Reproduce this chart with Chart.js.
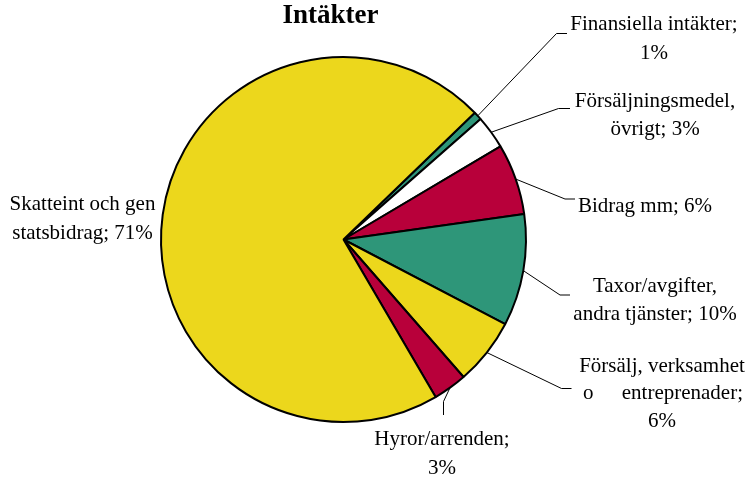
<!DOCTYPE html>
<html lang="sv">
<head>
<meta charset="utf-8">
<title>Intäkter</title>
<script src="https://cdn.jsdelivr.net/npm/chart.js@4.4.1/dist/chart.umd.min.js"></script>
<style>
  html, body { margin: 0; padding: 0; background: #ffffff; }
  canvas { display: block; }
</style>
</head>
<body>
<canvas id="pieChart" width="750" height="479"></canvas>
<script>
// Data (andelar i procent, medurs från "Finansiella intäkter")
const categories = [
    'Finansiella intäkter',
    'Försäljningsmedel, övrigt',
    'Bidrag mm',
    'Taxor/avgifter, andra tjänster',
    'Försälj, verksamhet o entreprenader',
    'Hyror/arrenden',
    'Skatteint och gen statsbidrag'
];
const shares = [0.75, 2.95, 6.3, 9.9, 5.9, 3.0, 71.2];
const sliceColors = ['#2e9679', '#ffffff', '#b8003a', '#2e9679', '#ecd71c', '#b8003a', '#ecd71c'];
const chartTitle = 'Intäkter';

// Radbrytning av etiketterna, {p} = avrundad procentsats
const labelText = [
    ['Finansiella intäkter;', '{p}%'],
    ['Försäljningsmedel,', 'övrigt; {p}%'],
    ['Bidrag mm; {p}%'],
    ['Taxor/avgifter,', 'andra tjänster; {p}%'],
    ['Försälj, verksamhet', 'o entreprenader;', '{p}%'],
    ['Hyror/arrenden;', '{p}%'],
    ['Skatteint och gen', 'statsbidrag; {p}%']
];

// Placering av etiketter och hänvisningslinjer (endast layout)
const labelLayout = [
    { elbow: [556.5, 33.5], end: [567, 33.5], x: 654, y: [30, 59] },
    { elbow: [558.5, 108.5], end: [570, 108.5], x: 655, y: [106.5, 135] },
    { elbow: [565, 199], end: [575, 199], x: 645, y: [211.5] },
    { elbow: [560, 295], end: [570, 295], x: 655, y: [291.5, 320] },
    { elbow: [561.5, 388.5], end: [571.5, 388.5], x: 662, y: [371.5, 399, 427], justify: { line: 1, from: 583, to: 743 } },
    { elbow: [443.5, 401.5], end: [443.5, 415], x: 442, y: [445, 474] },
    { x: 82.5, y: [210, 239] }
];

const labelFont = '21px "Liberation Serif", "Times New Roman", serif';

const pieLabels = {
    id: 'pieLabels',
    afterDraw(chart) {
        const ctx = chart.ctx;
        const arcs = chart.getDatasetMeta(0).data;
        ctx.save();

        // Titel
        ctx.fillStyle = '#000000';
        ctx.font = 'bold 27px "Liberation Serif", "Times New Roman", serif';
        ctx.textAlign = 'center';
        ctx.textBaseline = 'alphabetic';
        ctx.fillText(chartTitle, 330.5, 22.5);

        ctx.font = labelFont;
        ctx.strokeStyle = '#000000';
        ctx.lineWidth = 1;

        arcs.forEach((arc, i) => {
            const lay = labelLayout[i];
            const p = arc.getProps(['x', 'y', 'startAngle', 'endAngle', 'outerRadius'], true);
            const mid = (p.startAngle + p.endAngle) / 2;
            // Hänvisningslinje från bågens mitt
            if (lay.elbow) {
                const sx = p.x + Math.cos(mid) * p.outerRadius;
                const sy = p.y + Math.sin(mid) * p.outerRadius;
                ctx.beginPath();
                ctx.moveTo(sx, sy);
                ctx.lineTo(lay.elbow[0], lay.elbow[1]);
                ctx.lineTo(lay.end[0], lay.end[1]);
                ctx.stroke();
            }
            const pct = Math.round(shares[i]);
            labelText[i].forEach((line, j) => {
                const txt = line.replace('{p}', pct);
                if (lay.justify && lay.justify.line === j) {
                    const words = txt.split(' ');
                    ctx.textAlign = 'left';
                    ctx.fillText(words[0], lay.justify.from, lay.y[j]);
                    ctx.textAlign = 'right';
                    ctx.fillText(words.slice(1).join(' '), lay.justify.to, lay.y[j]);
                } else {
                    ctx.textAlign = 'center';
                    ctx.fillText(txt, lay.x, lay.y[j]);
                }
            });
        });
        ctx.restore();
    }
};

const ctx = document.getElementById('pieChart').getContext('2d');
new Chart(ctx, {
    type: 'pie',
    data: {
        labels: categories,
        datasets: [{
            data: shares,
            backgroundColor: sliceColors,
            borderColor: '#000000',
            borderWidth: 2
        }]
    },
    options: {
        responsive: false,
        animation: false,
        rotation: 46, // första sektorn börjar ca 46° medurs från toppen
        layout: {
            padding: { top: 55.5, bottom: 55.5, left: 160, right: 223 }
        },
        plugins: {
            legend: { display: false },
            tooltip: { enabled: false },
            title: { display: false }
        }
    },
    plugins: [pieLabels]
});
</script>
</body>
</html>
